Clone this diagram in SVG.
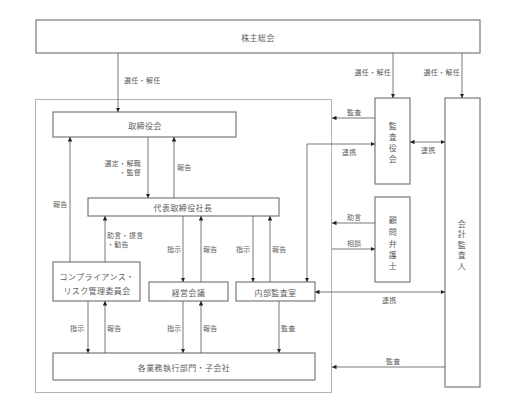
<svg xmlns="http://www.w3.org/2000/svg" width="515" height="420" viewBox="0 0 515 420">
<style>
.bx{fill:#fff;stroke:#7a7a7a;stroke-width:1.2}
.ct{fill:none;stroke:#b4b4b4;stroke-width:1}
.t{font-family:"Noto Sans CJK JP","Liberation Serif",serif;font-size:8px;fill:#606060;letter-spacing:0.4px;text-anchor:middle;dominant-baseline:central}
.l{font-family:"Noto Sans CJK JP","Liberation Serif",serif;font-size:7px;fill:#606060;letter-spacing:0.3px}
.c{fill:none;stroke:#555;stroke-width:0.8}
</style>
<defs>
<marker id="ah" viewBox="0 0 6 6" refX="6" refY="3" markerWidth="4.5" markerHeight="4.5" markerUnits="userSpaceOnUse" orient="auto-start-reverse">
<path d="M0 0L6 3L0 6z" fill="#222"/>
</marker>
</defs>
<rect width="515" height="420" fill="#fff"/>
<rect id="container" class="ct" x="35.5" y="99.5" width="296" height="293"/>
<g id="kabunushi"><rect class="bx" x="36" y="20" width="444" height="33"/><text class="t" x="258" y="37">株主総会</text></g>
<g id="torishimariyakukai"><rect class="bx" x="53" y="112" width="183" height="25"/><text class="t" x="145" y="125">取締役会</text></g>
<g id="daihyo"><rect class="bx" x="88" y="198" width="191" height="18"/><text class="t" x="183" y="207.5">代表取締役社長</text></g>
<g id="compliance"><rect class="bx" x="53" y="262" width="87" height="39"/><text class="t" x="97" y="276">コンプライアンス・</text><text class="t" x="97" y="290">リスク管理委員会</text></g>
<g id="keiei"><rect class="bx" x="149" y="282" width="79" height="19"/><text class="t" x="188.5" y="292">経営会議</text></g>
<g id="naibu"><rect class="bx" x="236" y="282" width="79" height="19"/><text class="t" x="275.5" y="292">内部監査室</text></g>
<g id="gyomu"><rect class="bx" x="53" y="353" width="262" height="27"/><text class="t" x="184" y="367">各業務執行部門・子会社</text></g>
<g id="kansayakukai"><rect class="bx" x="375" y="98" width="35" height="86"/><text class="t" x="393" y="125">監</text><text class="t" x="393" y="136">査</text><text class="t" x="393" y="147">役</text><text class="t" x="393" y="158">会</text></g>
<g id="komon"><rect class="bx" x="375" y="197" width="35" height="85"/><text class="t" x="393" y="219">顧</text><text class="t" x="393" y="231">問</text><text class="t" x="393" y="243">弁</text><text class="t" x="393" y="254">護</text><text class="t" x="393" y="265">士</text></g>
<g id="kaikei"><rect class="bx" x="445" y="98" width="35" height="289"/><text class="t" x="462" y="223">会</text><text class="t" x="462" y="233.5">計</text><text class="t" x="462" y="244">監</text><text class="t" x="462" y="254.5">査</text><text class="t" x="462" y="265">人</text></g>
<g id="connectors">
<path class="c" d="M118 53V112" marker-end="url(#ah)"/>
<path class="c" d="M393 53V98" marker-end="url(#ah)"/>
<path class="c" d="M462 53V98" marker-end="url(#ah)"/>
<path class="c" d="M148 137V198" marker-end="url(#ah)"/>
<path class="c" d="M174 198V137" marker-end="url(#ah)"/>
<path class="c" d="M70 262V137" marker-end="url(#ah)"/>
<path class="c" d="M105 262V216" marker-end="url(#ah)"/>
<path class="c" d="M183 216V282" marker-end="url(#ah)"/>
<path class="c" d="M201 282V216" marker-end="url(#ah)"/>
<path class="c" d="M253 216V282" marker-end="url(#ah)"/>
<path class="c" d="M270 282V216" marker-end="url(#ah)"/>
<path class="c" d="M88 301V353" marker-end="url(#ah)"/>
<path class="c" d="M105 353V301" marker-end="url(#ah)"/>
<path class="c" d="M183 301V353" marker-end="url(#ah)"/>
<path class="c" d="M201 353V301" marker-end="url(#ah)"/>
<path class="c" d="M279 301V353" marker-end="url(#ah)"/>
<path class="c" d="M375 118H332" marker-end="url(#ah)"/>
<path class="c" d="M307 282V144H375" marker-start="url(#ah)" marker-end="url(#ah)"/>
<path class="c" d="M410 142H445" marker-start="url(#ah)" marker-end="url(#ah)"/>
<path class="c" d="M375 223H332" marker-end="url(#ah)"/>
<path class="c" d="M332 249H375" marker-end="url(#ah)"/>
<path class="c" d="M315 292H445" marker-start="url(#ah)" marker-end="url(#ah)"/>
<path class="c" d="M445 367H332" marker-end="url(#ah)"/>
</g>
<g id="labels">
<text class="l" x="124" y="83">選任・解任</text>
<text class="l" x="391" y="75" text-anchor="end">選任・解任</text>
<text class="l" x="460" y="75" text-anchor="end">選任・解任</text>
<text class="l" x="141" y="165.5" text-anchor="end">選定・解職</text>
<text class="l" x="141" y="174.5" text-anchor="end">・監督</text>
<text class="l" x="177" y="170">報告</text>
<text class="l" x="53" y="206.5">報告</text>
<text class="l" x="107" y="238">助言・提言</text>
<text class="l" x="107" y="247">・勧告</text>
<text class="l" x="167" y="252">指示</text>
<text class="l" x="203" y="252">報告</text>
<text class="l" x="236" y="252">指示</text>
<text class="l" x="272" y="252">報告</text>
<text class="l" x="70" y="331">指示</text>
<text class="l" x="107" y="331">報告</text>
<text class="l" x="167" y="331">指示</text>
<text class="l" x="203" y="331">報告</text>
<text class="l" x="281" y="331">監査</text>
<text class="l" x="347" y="115">監査</text>
<text class="l" x="342" y="155">連携</text>
<text class="l" x="421" y="153">連携</text>
<text class="l" x="347" y="220">助言</text>
<text class="l" x="347" y="246">相談</text>
<text class="l" x="382" y="303">連携</text>
<text class="l" x="386" y="364">監査</text>
</g>
</svg>
